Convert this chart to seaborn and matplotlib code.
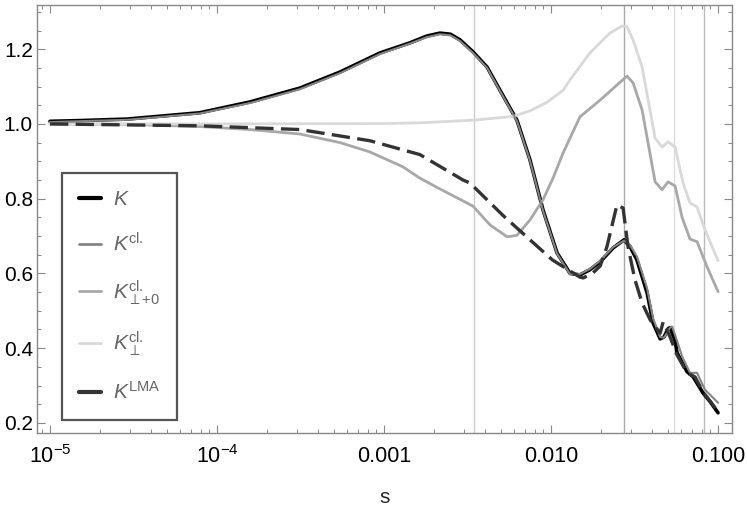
import numpy as np
import pandas as pd
import matplotlib
matplotlib.use("Agg")
import matplotlib.pyplot as plt
import matplotlib.ticker as mticker
from matplotlib.lines import Line2D
import seaborn as sns

# values
s_k = [1e-5, 1.51e-5, 2.89e-5, 7.9e-5, 1.58e-4, 3.14e-4, 5.46e-4, 9.46e-4, 1.43e-3,
       1.8e-3, 2.16e-3, 2.5e-3, 2.85e-3, 3.41e-3, 4.14e-3, 4.95e-3, 6.25e-3, 7.48e-3,
       8.95e-3, 0.01086, 0.0130, 0.0149, 0.0171, 0.0197, 0.0235, 0.0274, 0.0297,
       0.0327, 0.0376, 0.0408, 0.0450, 0.0475, 0.0502, 0.0516, 0.0553, 0.0568,
       0.0652, 0.0708, 0.0813, 0.0896, 0.1]
k_vals = [1.007, 1.009, 1.013, 1.030, 1.059, 1.096, 1.139, 1.190, 1.217,
          1.235, 1.243, 1.240, 1.225, 1.193, 1.152, 1.090, 1.010, 0.904,
          0.770, 0.655, 0.600, 0.596, 0.610, 0.631, 0.668, 0.690, 0.672,
          0.636, 0.548, 0.468, 0.425, 0.430, 0.452, 0.455, 0.420, 0.388,
          0.337, 0.324, 0.280, 0.257, 0.227]

s_kcl = [1e-5, 2.89e-5, 7.9e-5, 1.58e-4, 3.14e-4, 5.46e-4, 9.46e-4, 1.43e-3,
         1.8e-3, 2.16e-3, 2.5e-3, 2.85e-3, 3.41e-3, 4.14e-3, 4.95e-3, 6.25e-3,
         7.48e-3, 8.95e-3, 0.01086, 0.0130, 0.0149, 0.0171, 0.0197, 0.0235,
         0.0274, 0.0297, 0.0327, 0.0376, 0.0408, 0.0450, 0.0475, 0.0516, 0.0531,
         0.0568, 0.0609, 0.0679, 0.0748, 0.0835, 0.1]
kcl_vals = [1.005, 1.011, 1.028, 1.056, 1.093, 1.136, 1.187, 1.215,
            1.232, 1.240, 1.237, 1.222, 1.190, 1.150, 1.088, 1.008,
            0.902, 0.768, 0.653, 0.598, 0.598, 0.612, 0.634, 0.670,
            0.688, 0.676, 0.645, 0.560, 0.480, 0.430, 0.428, 0.455, 0.458,
            0.420, 0.378, 0.334, 0.334, 0.289, 0.254]

s_perp0 = [1e-5, 2.89e-5, 7.9e-5, 1.58e-4, 3.14e-4, 5.46e-4, 8.24e-4, 1.30e-3,
           1.64e-3, 2.08e-3, 3.41e-3, 4.31e-3, 5.46e-3, 6.25e-3, 7.48e-3,
           8.95e-3, 0.01028, 0.0118, 0.0149, 0.0197, 0.0248, 0.0285, 0.0310,
           0.0351, 0.0420, 0.0462, 0.0502, 0.0553, 0.0609, 0.0679, 0.0748,
           0.0859, 0.1]
perp0_vals = [1.000, 0.999, 0.993, 0.985, 0.973, 0.950, 0.925, 0.885,
              0.855, 0.830, 0.780, 0.730, 0.698, 0.702, 0.743,
              0.797, 0.855, 0.922, 1.019, 1.064, 1.104, 1.128, 1.110,
              1.037, 0.845, 0.824, 0.845, 0.834, 0.750, 0.692, 0.685,
              0.618, 0.551]

s_perp = [1e-5, 1e-4, 1e-3, 1.64e-3, 3.41e-3, 5.92e-3, 7.48e-3, 9.46e-3,
          0.0118, 0.0130, 0.0171, 0.0225, 0.0266, 0.0285, 0.0310, 0.0351,
          0.0420, 0.0462, 0.0502, 0.0553, 0.0617, 0.0679, 0.0748, 0.0835, 0.1]
perp_vals = [1.000, 1.000, 1.001, 1.003, 1.010, 1.020, 1.035, 1.058,
             1.090, 1.118, 1.190, 1.243, 1.262, 1.260, 1.225, 1.152,
             0.962, 0.938, 0.952, 0.938, 0.842, 0.789, 0.778, 0.717, 0.634]

s_lma = [1e-5, 7.9e-5, 3.14e-4, 8.24e-4, 1.64e-3, 2.97e-3, 3.27e-3, 5.16e-3,
         7.48e-3, 0.0102, 0.0149, 0.0156, 0.0178, 0.0197, 0.0216, 0.0248,
         0.0270, 0.0289, 0.0318, 0.0351, 0.0392, 0.0450, 0.0469, 0.0516,
         0.0568, 0.0652, 0.0728, 0.0813, 0.1]
lma_vals = [1.000, 0.995, 0.985, 0.955, 0.918, 0.850, 0.842, 0.755,
            0.690, 0.636, 0.590, 0.588, 0.601, 0.620, 0.671, 0.783,
            0.775, 0.671, 0.583, 0.521, 0.476, 0.440, 0.470, 0.430,
            0.382, 0.334, 0.323, 0.283, 0.230]

vline_s = [0.00346, 0.0274, 0.0546, 0.0824]
vline_colors = ["#cccccc", "#aaaaaa", "#dddddd", "#bbbbbb"]

xtick_pos = [1e-5, 1e-4, 1e-3, 1e-2, 1e-1]
xtick_labels = [r"$10^{-5}$", r"$10^{-4}$", "0.001", "0.010", "0.100"]

labels = [r"$K$", r"$K^{\mathrm{cl.}}$", r"$K^{\mathrm{cl.}}_{\perp{+}0}$",
          r"$K^{\mathrm{cl.}}_{\perp}$", r"$K^{\mathrm{LMA}}$"]

sns.set_style("ticks")
plt.rcParams["font.family"] = ["Liberation Sans", "DejaVu Sans"]
plt.rcParams["mathtext.fontset"] = "custom"
plt.rcParams["mathtext.rm"] = "Liberation Sans"
plt.rcParams["mathtext.it"] = "Liberation Sans:italic"
plt.rcParams["mathtext.bf"] = "Liberation Sans:bold"

fig = plt.figure(figsize=(7.47, 5.09), dpi=100)
ax = fig.add_axes([0.0495, 0.1493, 0.9305, 0.8407])

for xv, c in zip(vline_s, vline_colors):
    ax.axvline(xv, color=c, lw=1.0, zorder=1)

sns.lineplot(x=s_k, y=k_vals, ax=ax, color="black", lw=2.6, estimator=None, zorder=3)
sns.lineplot(x=s_kcl, y=kcl_vals, ax=ax, color="#858585", lw=1.5, estimator=None, zorder=4)
sns.lineplot(x=s_perp0, y=perp0_vals, ax=ax, color="#a8a8a8", lw=2.0, estimator=None, zorder=3)
sns.lineplot(x=s_perp, y=perp_vals, ax=ax, color="#d9d9d9", lw=2.0, estimator=None, zorder=3)
sns.lineplot(x=s_lma, y=lma_vals, ax=ax, color="#333333", lw=2.4, estimator=None,
             zorder=5, dashes=False, linestyle=(0, (5.5, 2.2)))

ax.set_xscale("log")
ax.set_xlim(8.36e-6, 0.1213)
ax.set_ylim(0.173, 1.318)

ax.xaxis.set_major_locator(mticker.FixedLocator(xtick_pos))
ax.xaxis.set_major_formatter(mticker.FixedFormatter(xtick_labels))
ax.xaxis.set_minor_locator(mticker.LogLocator(base=10, subs=np.arange(2, 10)))
ax.xaxis.set_minor_formatter(mticker.NullFormatter())
ax.yaxis.set_major_locator(mticker.MultipleLocator(0.2))
ax.yaxis.set_minor_locator(mticker.MultipleLocator(0.05))
ax.yaxis.set_major_formatter(mticker.FormatStrFormatter("%.1f"))

for sp in ax.spines.values():
    sp.set_color("#888888")
    sp.set_linewidth(1.0)
ax.tick_params(which="both", direction="in", top=True, right=True, color="#888888",
               labelsize=15, labelcolor="black")
ax.tick_params(axis="x", labelsize=15.5)
ax.tick_params(which="major", length=6, width=0.8)
ax.tick_params(which="minor", length=3, width=0.7)
ax.tick_params(axis="x", pad=9)
ax.tick_params(axis="y", pad=3)

ax.set_xlabel("s", fontsize=15, labelpad=14)
ax.set_ylabel("")

handles = [Line2D([], [], color="black", lw=3.0),
           Line2D([], [], color="#858585", lw=2.0),
           Line2D([], [], color="#a8a8a8", lw=2.0),
           Line2D([], [], color="#d9d9d9", lw=2.0),
           Line2D([], [], color="#333333", lw=3.0)]
leg = ax.legend(handles, labels, loc="upper left", bbox_to_anchor=(0.036, 0.607),
                borderaxespad=0, fontsize=15, handlelength=1.05, handletextpad=0.6,
                labelspacing=1.1, borderpad=0.8, fancybox=False, framealpha=1)
leg.get_frame().set_edgecolor("#555555")
leg.get_frame().set_linewidth(1.6)
for t in leg.get_texts():
    t.set_color("#666666")

fig.savefig("out.png", dpi=100)
